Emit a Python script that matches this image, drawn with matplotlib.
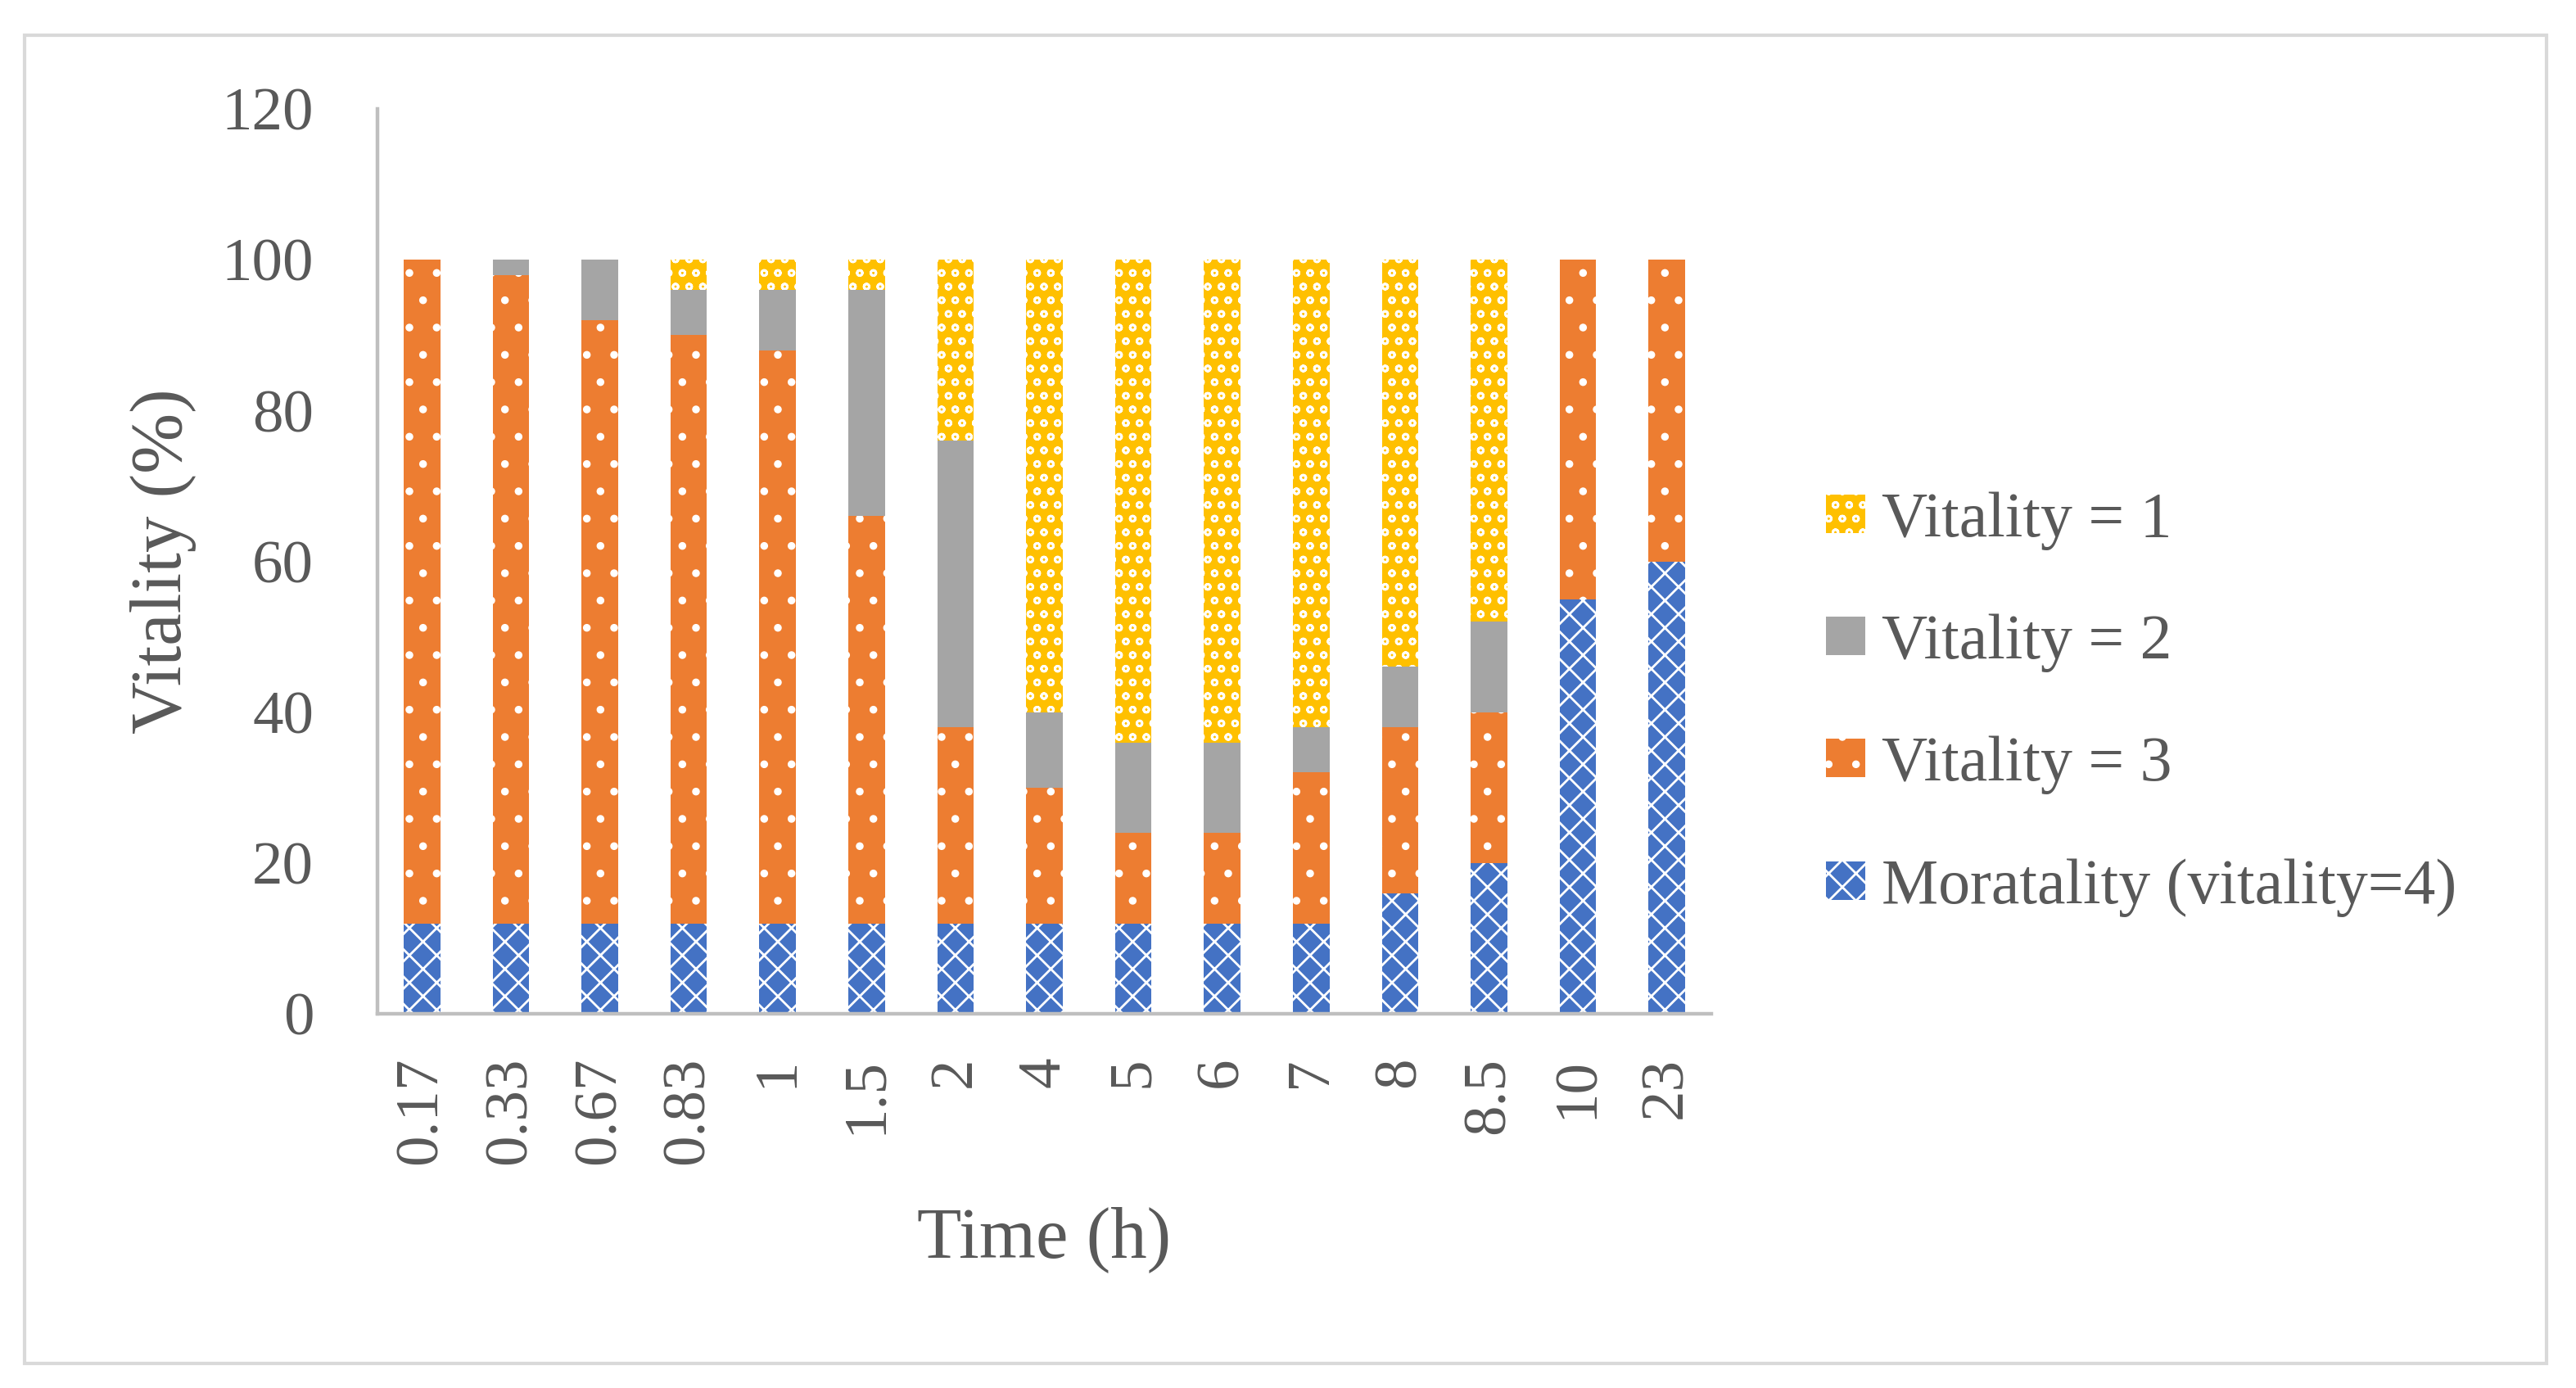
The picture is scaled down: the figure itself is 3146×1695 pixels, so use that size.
import matplotlib
matplotlib.use("Agg")
import matplotlib.pyplot as plt
from matplotlib.patches import Rectangle
import numpy as np

# data (percent of animals per vitality class)
times = ['0.17', '0.33', '0.67', '0.83', '1', '1.5', '2', '4', '5', '6', '7', '8', '8.5', '10', '23']
mortality = [12, 12, 12, 12, 12, 12, 12, 12, 12, 12, 12, 16, 20, 55, 60]
vitality3 = [88, 86, 80, 78, 76, 54, 26, 18, 12, 12, 20, 22, 20, 45, 40]
vitality2 = [0, 2, 8, 6, 8, 30, 38, 10, 12, 12, 6, 8, 12, 0, 0]
vitality1 = [0, 0, 0, 4, 4, 4, 24, 60, 64, 64, 62, 54, 48, 0, 0]

plt.rcParams['font.family'] = ['Liberation Serif', 'DejaVu Serif']
plt.rcParams['hatch.linewidth'] = 1.0
txt = '#595959'

fig = plt.figure(figsize=(15.73, 8.475), dpi=200)
W, H = 3146, 1695
x0, x1, y0, y1 = 461, 2090, 1238, 133
ax = fig.add_axes([x0 / W, 1 - y0 / H, (x1 - x0) / W, (y0 - y1) / H])

x = np.arange(len(times))
w = 0.41
b1 = ax.bar(x, mortality, w, color='#4472C4', edgecolor='white', linewidth=0, hatch='xx',
            label='Moratality (vitality=4)')
bottom = np.array(mortality)
b2 = ax.bar(x, vitality3, w, bottom=bottom, color='#ED7D31', edgecolor='white', linewidth=0,
            hatch='.', label='Vitality = 3')
bottom = bottom + np.array(vitality3)
b3 = ax.bar(x, vitality2, w, bottom=bottom, color='#A5A5A5', linewidth=0, label='Vitality = 2')
bottom = bottom + np.array(vitality2)
b4 = ax.bar(x, vitality1, w, bottom=bottom, color='#FFC000', edgecolor='white', linewidth=0,
            hatch='oo', label='Vitality = 1')

ax.set_xlim(-0.5, len(times) - 0.5)
ax.set_ylim(0, 120)
ax.set_yticks(range(0, 121, 20))
ax.set_xticks(x)
ax.set_xticklabels(times, rotation=90)
ax.tick_params(axis='both', length=0, labelsize=27, colors=txt)
ax.tick_params(axis='y', pad=28)
ax.tick_params(axis='x', pad=19)

for s in ['top', 'right']:
    ax.spines[s].set_visible(False)
for s in ['left', 'bottom']:
    ax.spines[s].set_color('#BFBFBF')
    ax.spines[s].set_linewidth(1.6)

ax.set_xlabel('Time (h)', fontsize=32, color=txt)
ax.set_ylabel('Vitality (%)', fontsize=32, color=txt)
ax.xaxis.set_label_coords(0.5, -0.213)
ax.yaxis.set_label_coords(-0.1357, 0.5)

fig.legend(handles=[b4, b3, b2, b1], loc='center left', bbox_to_anchor=(2230 / W, 1 - 860 / H),
           frameon=False, fontsize=28, labelcolor=txt, handlelength=0.62, handleheight=0.55,
           handletextpad=0.26, labelspacing=1.0, borderpad=0, borderaxespad=0)

fig.add_artist(Rectangle((30 / W, 1 - 1665 / H), (3110 - 30) / W, (1665 - 43) / H,
                         transform=fig.transFigure, fill=False, edgecolor='#D9D9D9', linewidth=1.5))

fig.savefig('out.png', dpi=200)
